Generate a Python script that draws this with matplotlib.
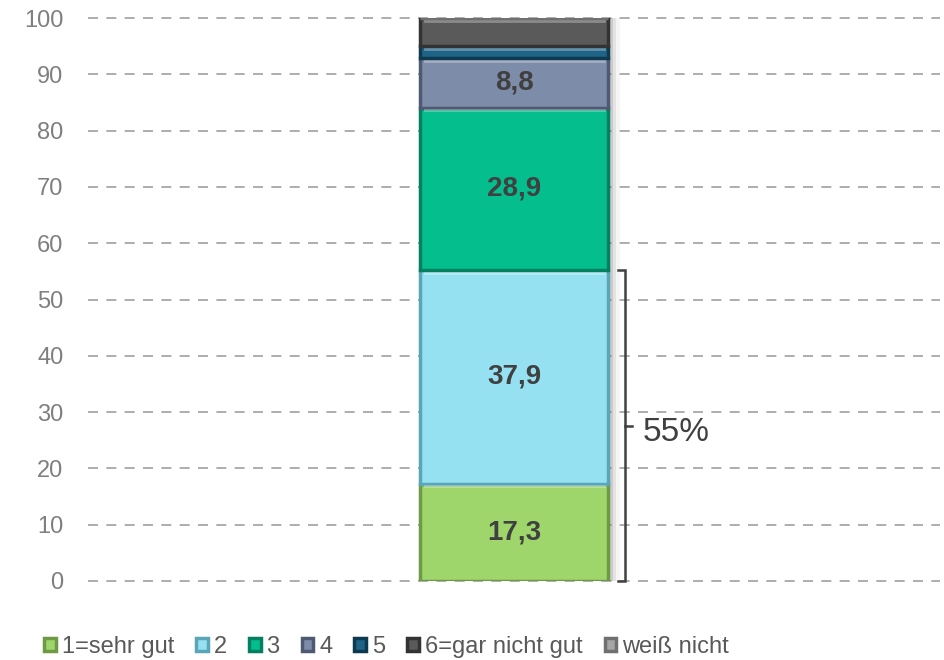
import matplotlib.pyplot as plt
import numpy as np

plt.rcParams['font.family'] = ['Liberation Sans', 'DejaVu Sans']

# data
categories = ['1=sehr gut', '2', '3', '4', '5', '6=gar nicht gut', 'weiß nicht']
values = [17.3, 37.9, 28.9, 8.8, 2.1, 5.0, 0.0]
labels = ['17,3', '37,9', '28,9', '8,8', '', '', '']
colors = ['#9fd66b', '#95e1f1', '#04be8e', '#7d8ca8', '#1f6487', '#5a5a5a', '#a6a6a6']
edges = ['#6f9a45', '#5aa5b8', '#028060', '#4d5a72', '#0e3a50', '#333333', '#707070']
bracket_text = '55%'
yticks = list(range(0, 101, 10))

fig = plt.figure(figsize=(9.45, 6.6), dpi=100)
ax = fig.add_axes([0.093, 0.1197, 0.902, 0.853])

# soft shadow right of the stack
total = sum(values)
for k, a in enumerate([0.10, 0.07, 0.04]):
    ax.bar(0.012 + k * 0.008, total, width=0.44, color='#000000', alpha=a,
           linewidth=0, zorder=2)

bw = 0.44
bottom = 0
for cat, v, lab, c, e in zip(categories, values, labels, colors, edges):
    ax.bar(0, v, bottom=bottom, width=bw, color=c, edgecolor=e, linewidth=2.5,
           label=cat, zorder=3)
    if v > 1.5:
        # bevel highlight along the top edge
        ax.plot([-bw / 2 + 0.01, bw / 2 - 0.01], [bottom + v - 0.45] * 2,
                color='white', alpha=0.3, linewidth=2, zorder=3.5)
    if lab:
        ax.text(0, bottom + v / 2, lab, ha='center', va='center', fontsize=20,
                fontweight='bold', color='#404040', zorder=4)
    bottom += v

ax.set_xlim(-1, 1)
ax.set_ylim(0, 100)
ax.set_yticks(yticks)
ax.set_xticks([])
ax.tick_params(axis='y', length=0, labelsize=17, labelcolor='#7f7f7f', pad=17.5)
for s in ax.spines.values():
    s.set_visible(False)
ax.yaxis.grid(True, linestyle=(0, (6, 5)), color='#a0a0a0', linewidth=1.2, zorder=0)
for gl in ax.yaxis.get_gridlines():
    gl.set_clip_on(False)

# bracket for top-2 share
top2 = values[0] + values[1]
bx = 0.26
ax.plot([bx - 0.015, bx, bx, bx - 0.015], [0, 0, top2, top2], color='#404040',
        linewidth=1.8, zorder=5, clip_on=False, solid_joinstyle='miter')
ax.plot([bx, bx + 0.016], [top2 / 2, top2 / 2], color='#404040', linewidth=1.8, zorder=5)
ax.text(bx + 0.042, top2 / 2 - 1.2, bracket_text, fontsize=24, color='#404040',
        va='center', ha='left', zorder=5)

leg = fig.legend(loc='center left', bbox_to_anchor=(44 / 945, 1 - 647 / 660), ncol=7,
                 frameon=False, fontsize=17, handlelength=0.5, handleheight=0.5,
                 handletextpad=0.25, columnspacing=0.93, borderpad=0, borderaxespad=0)
for t in leg.get_texts():
    t.set_color('#595959')

fig.savefig('out.png', dpi=100)
